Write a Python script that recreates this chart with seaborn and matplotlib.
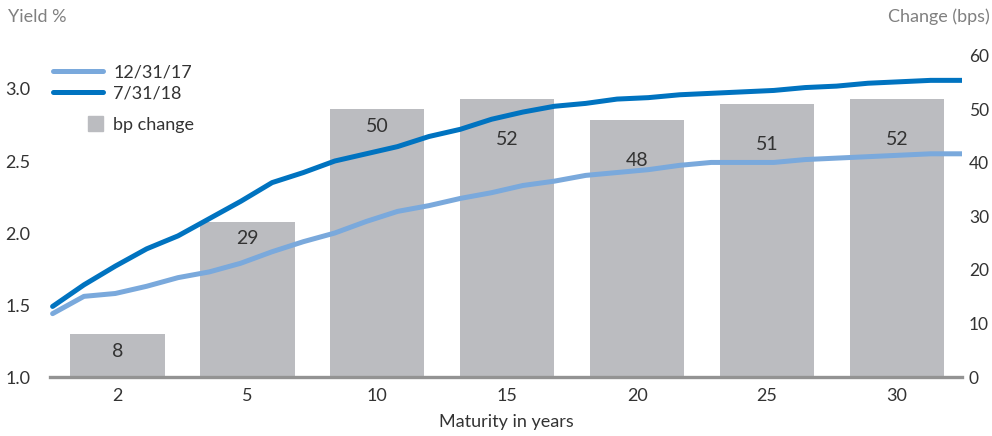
import numpy as np
import pandas as pd
import seaborn as sns
import matplotlib.pyplot as plt
from matplotlib.lines import Line2D
from matplotlib.patches import Rectangle
from matplotlib.legend_handler import HandlerPatch

# bar categories (maturity in years) and bp change
maturities = ["2", "5", "10", "15", "20", "25", "30"]
bp_change = [8, 29, 50, 52, 48, 51, 52]

# yield curves, 1..30 year maturities
yield_dec17 = [1.44, 1.56, 1.58, 1.63, 1.69, 1.73, 1.79, 1.87, 1.94, 2.00,
               2.08, 2.15, 2.19, 2.24, 2.28, 2.33, 2.36, 2.40, 2.42, 2.44,
               2.47, 2.49, 2.49, 2.49, 2.51, 2.52, 2.53, 2.54, 2.55, 2.55]
yield_jul18 = [1.49, 1.64, 1.77, 1.89, 1.98, 2.10, 2.22, 2.35, 2.42, 2.50,
               2.55, 2.60, 2.67, 2.72, 2.79, 2.84, 2.88, 2.90, 2.93, 2.94,
               2.96, 2.97, 2.98, 2.99, 3.01, 3.02, 3.04, 3.05, 3.06, 3.06]
curve_labels = ["12/31/17", "7/31/18"]

LIGHT = "#7aa9dc"
DARK = "#0073c0"
BAR = "#bbbcc0"
TXT = "#333333"
GREY = "#808080"
FS = 13

sns.set_style("white")
plt.rcParams["font.family"] = ["Lato", "DejaVu Sans"]

fig = plt.figure(figsize=(9.92, 4.36), dpi=100)
ax = fig.add_axes([50 / 992, 1 - 377 / 436, 912 / 992, 321 / 436])
ax2 = ax.twinx()

bars_df = pd.DataFrame({"maturity": maturities, "change": bp_change})
sns.barplot(bars_df, x="maturity", y="change", ax=ax2, color=BAR,
            saturation=1, width=0.725, edgecolor="none")
labels = ax2.bar_label(ax2.containers[0], padding=-6, fontsize=14, color=TXT)
# labels of the longer bars sit lower, below the curves
for i, t in enumerate(labels):
    t.set_va("top")
    if i >= 3:
        t.xyann = (0, -23)

n = len(yield_dec17)
pos = np.linspace(-0.5, 6.5, n)
curves = pd.DataFrame({
    "pos": np.concatenate([pos, pos]),
    "yield": yield_dec17 + yield_jul18,
    "curve": [curve_labels[0]] * n + [curve_labels[1]] * n,
})
sns.lineplot(curves, x="pos", y="yield", hue="curve", palette=[LIGHT, DARK],
             ax=ax, linewidth=3.6, legend=False, solid_capstyle="round")

ax.set_zorder(ax2.get_zorder() + 1)
ax.patch.set_visible(False)

ax.set_xlim(-0.52, 6.5)
ax.set_ylim(1.0, 1.0 + 321 / 144)
ax.set_yticks([1.0, 1.5, 2.0, 2.5, 3.0])
ax.set_yticklabels(["1.0", "1.5", "2.0", "2.5", "3.0"])
ax2.set_ylim(0, 60)
ax2.set_yticks(range(0, 61, 10))

for a in (ax, ax2):
    for s in a.spines.values():
        s.set_visible(False)
    a.tick_params(length=0, labelsize=FS, labelcolor=TXT)
    a.set_ylabel("")
ax.spines["bottom"].set_visible(True)
ax.spines["bottom"].set_color("#939393")
ax.spines["bottom"].set_linewidth(2.4)
ax.tick_params(axis="y", pad=14)
ax2.tick_params(axis="y", pad=5, labelsize=12.5)
ax.tick_params(axis="x", pad=8)
ax2.tick_params(axis="x", pad=8)
ax.set_xticks(range(len(maturities)))
ax.set_xticklabels(maturities)
ax.set_xlabel("Maturity in years", fontsize=FS, color=TXT, labelpad=7)
ax2.set_xlabel("")

fig.text(8 / 992, 1 - 17 / 436, "Yield %", fontsize=FS, color=GREY, va="center")
fig.text(990 / 992, 1 - 17 / 436, "Change (bps)", fontsize=FS, color=GREY,
         va="center", ha="right")

handles = [Line2D([], [], color=LIGHT, lw=3.6, solid_capstyle="round"),
           Line2D([], [], color=DARK, lw=3.6, solid_capstyle="round")]
leg1 = ax.legend(handles, curve_labels, loc="upper left",
                 bbox_to_anchor=(0.003, 0.975), frameon=False, fontsize=FS,
                 handlelength=2.8, handletextpad=0.55, borderpad=0,
                 borderaxespad=0, labelspacing=0.3, labelcolor=TXT)
ax.add_artist(leg1)


def square_right(legend, orig_handle, xdescent, ydescent, width, height, fontsize):
    s = 11
    return Rectangle((-xdescent + width - s, -ydescent + (height - s) / 2), s, s)


leg2 = ax.legend([Rectangle((0, 0), 1, 1, color=BAR)], ["bp change"],
                 loc="upper left", bbox_to_anchor=(0.003, 0.81), frameon=False,
                 fontsize=FS, handlelength=2.8, handletextpad=0.55, borderpad=0,
                 borderaxespad=0, labelcolor=TXT,
                 handler_map={Rectangle: HandlerPatch(patch_func=square_right)})

fig.savefig("out.png", dpi=100)
